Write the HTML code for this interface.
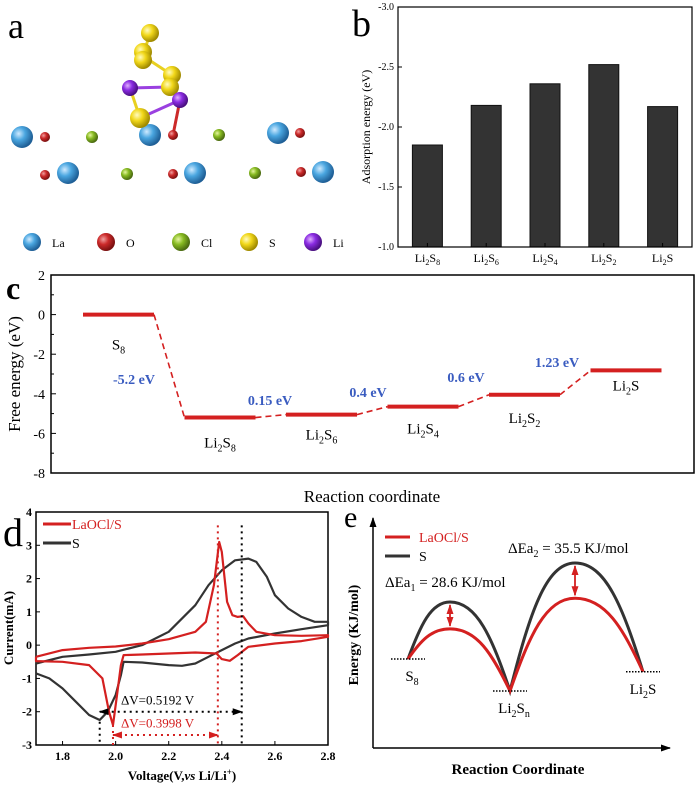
<!DOCTYPE html>
<html><head><meta charset="utf-8"><style>
body{margin:0;background:#fff}
svg{display:block;font-family:"Liberation Serif",serif}
</style></head><body>
<svg id="fig" width="700" height="787" viewBox="0 0 700 787" xmlns="http://www.w3.org/2000/svg">
<defs>
<radialGradient id="gLa" cx="35%" cy="35%" r="65%"><stop offset="0" stop-color="#cfeaff"/><stop offset="0.45" stop-color="#4aa6e0"/><stop offset="1" stop-color="#1f5f96"/></radialGradient>
<radialGradient id="gO" cx="35%" cy="35%" r="65%"><stop offset="0" stop-color="#f0a0a0"/><stop offset="0.45" stop-color="#cc2a2a"/><stop offset="1" stop-color="#7a1010"/></radialGradient>
<radialGradient id="gCl" cx="35%" cy="35%" r="65%"><stop offset="0" stop-color="#e6f5a0"/><stop offset="0.45" stop-color="#88bb22"/><stop offset="1" stop-color="#4a6a10"/></radialGradient>
<radialGradient id="gS" cx="35%" cy="35%" r="65%"><stop offset="0" stop-color="#fffbc0"/><stop offset="0.45" stop-color="#f2d81a"/><stop offset="1" stop-color="#a08a00"/></radialGradient>
<radialGradient id="gLi" cx="35%" cy="35%" r="65%"><stop offset="0" stop-color="#e0b0ff"/><stop offset="0.45" stop-color="#8a2be2"/><stop offset="1" stop-color="#4a1080"/></radialGradient>
<marker id="arB" markerUnits="userSpaceOnUse" markerWidth="10" markerHeight="10" refX="9" refY="5" orient="auto"><path d="M0,1.5 L10,5 L0,8.5 z" fill="#000"/></marker>
<marker id="arR" markerUnits="userSpaceOnUse" markerWidth="10" markerHeight="10" refX="9" refY="5" orient="auto"><path d="M0,1.5 L10,5 L0,8.5 z" fill="#d42020"/></marker>
<marker id="arBs" markerUnits="userSpaceOnUse" markerWidth="10" markerHeight="10" refX="1" refY="5" orient="auto"><path d="M10,1.5 L0,5 L10,8.5 z" fill="#000"/></marker>
<marker id="arRs" markerUnits="userSpaceOnUse" markerWidth="10" markerHeight="10" refX="1" refY="5" orient="auto"><path d="M10,1.5 L0,5 L10,8.5 z" fill="#d42020"/></marker>
</defs>

<g id="pa">
<text x="8" y="38" font-size="36">a</text>
<g stroke-width="3">
<line x1="150" y1="33" x2="143" y2="56" stroke="#e8d020"/>
<line x1="143" y1="56" x2="172" y2="75" stroke="#e8d020"/>
<line x1="172" y1="75" x2="170" y2="87" stroke="#e8d020"/>
<line x1="170" y1="87" x2="130" y2="88" stroke="#9a40e0"/>
<line x1="170" y1="87" x2="180" y2="100" stroke="#9a40e0"/>
<line x1="130" y1="88" x2="140" y2="118" stroke="#e8d020"/>
<line x1="180" y1="100" x2="140" y2="118" stroke="#9a40e0"/>
<line x1="180" y1="100" x2="173" y2="135" stroke="#cc2a2a"/>
</g>
</g>
<g id="legA"></g>

<g id="pb">
<text x="352" y="36" font-size="38">b</text>
<text transform="translate(370,127) rotate(-90)" font-size="12" text-anchor="middle">Adsorption energy (eV)</text>
</g>

<g id="pc">
<text x="6" y="299" font-size="32" font-weight="bold">c</text>
<text transform="translate(20,374) rotate(-90)" font-size="17" text-anchor="middle">Free energy (eV)</text>
<text x="372" y="502" font-size="17" text-anchor="middle">Reaction coordinate</text>
</g>

<g id="pd">
<text x="3" y="546" font-size="40">d</text>
<text transform="translate(13,628) rotate(-90)" font-size="13" font-weight="bold" text-anchor="middle">Current(mA)</text>
<text x="182" y="780" font-size="13" font-weight="bold" text-anchor="middle">Voltage(V,<tspan font-style="italic">vs</tspan> Li/Li<tspan dy="-5" font-size="9">+</tspan><tspan dy="5">)</tspan></text>
<line x1="43" y1="524" x2="71" y2="524" stroke="#d42020" stroke-width="3"/>
<text x="72" y="529" font-size="14" fill="#d42020">LaOCl/S</text>
<line x1="43" y1="543" x2="71" y2="543" stroke="#333" stroke-width="3"/>
<text x="72" y="548" font-size="14">S</text>
</g>

<g id="pe">
<text x="344" y="527" font-size="30">e</text>
<line x1="373" y1="748" x2="373" y2="518" stroke="#000" stroke-width="1.5" marker-end="url(#arB)"/>
<line x1="373" y1="748" x2="670" y2="748" stroke="#000" stroke-width="1.5" marker-end="url(#arB)"/>
<text transform="translate(358,635) rotate(-90)" font-size="14" font-weight="bold" text-anchor="middle">Energy (KJ/mol)</text>
<text x="518" y="774" font-size="15" font-weight="bold" text-anchor="middle">Reaction Coordinate</text>
<line x1="385" y1="537" x2="410" y2="537" stroke="#d42020" stroke-width="3"/>
<text x="419" y="542" font-size="14" fill="#d42020">LaOCl/S</text>
<line x1="385" y1="556" x2="410" y2="556" stroke="#333" stroke-width="3"/>
<text x="419" y="561" font-size="14">S</text>
<text x="508" y="553" font-size="15">ΔEa<tspan dy="4" font-size="10">2</tspan><tspan dy="-4"> = 35.5 KJ/mol</tspan></text>
<text x="385" y="587" font-size="15">ΔEa<tspan dy="4" font-size="10">1</tspan><tspan dy="-4"> = 28.6 KJ/mol</tspan></text>
</g>
</svg>
<script>
const NS='http://www.w3.org/2000/svg';
function mk(parent,tag,attrs,txt){const e=document.createElementNS(NS,tag);for(const k in attrs)e.setAttribute(k,attrs[k]);if(txt!==undefined)e.textContent=txt;parent.appendChild(e);return e;}

const pa=document.getElementById('pa');
const atomsA=[['La',22,137,11],['La',150,135,11],['La',278,133,11],['La',68,173,11],['La',195,173,11],['La',323,172,11],
['O',45,137,5],['O',173,135,5],['O',300,133,5],['O',45,175,5],['O',173,174,5],['O',301,172,5],
['Cl',92,137,6],['Cl',219,135,6],['Cl',127,174,6],['Cl',255,173,6],
['S',150,33,9],['S',143,52,9],['S',143,60,9],['S',172,75,9],['S',170,87,9],['S',140,118,10],['Li',130,88,8],['Li',180,100,8]];
atomsA.forEach(a=>{
  const c=mk(pa,'circle',{cx:a[1],cy:a[2],r:a[3],fill:'url(#g'+a[0]+')'});
  
  
});
const legA=document.getElementById('legA');
const legElems=['La','O','Cl','S','Li'];
const legXs=[32,106,181,249,313];
legElems.forEach((el,i)=>{
  const c=mk(legA,'circle',{cx:legXs[i],cy:242,r:9,fill:'url(#g'+el+')'});
  
  
  const t=mk(legA,'text',{x:legXs[i]+20,y:247,'font-size':12},el);
  
  
});

const bCategories=[['Li','2','S','8'],['Li','2','S','6'],['Li','2','S','4'],['Li','2','S','2'],['Li','2','S','']];
const bValues=[-1.85,-2.18,-2.36,-2.52,-2.17];
const bTicks=[-3.0,-2.5,-2.0,-1.5,-1.0];
const pb=document.getElementById('pb');
const bL=398,bR=692,bT=7,bB=247;
const byS=v=>bT+(v-(-3))/(2)*(bB-bT);
const bxS=i=>bL+(i+0.5)*(bR-bL)/bCategories.length;
bValues.forEach((v,i)=>{
  const r=mk(pb,'rect',{x:bxS(i)-15,y:byS(v),width:30,height:bB-byS(v),fill:'#333',stroke:'#111','stroke-width':1});
  
  
});
const bbox=mk(pb,'rect',{x:bL,y:bT,width:bR-bL,height:bB-bT,fill:'none',stroke:'#000','stroke-width':1.2});


bTicks.forEach(t=>{
  mk(pb,'line',{x1:bL,x2:bL+4,y1:byS(t),y2:byS(t),stroke:'#000'});
  const tx=mk(pb,'text',{x:bL-4,y:byS(t)+3,'font-size':10,'text-anchor':'end'},t.toFixed(1));
  
  
});
bCategories.forEach((c,i)=>{
  mk(pb,'line',{x1:bxS(i),x2:bxS(i),y1:bB,y2:bB-4,stroke:'#000'});
  const t=mk(pb,'text',{x:bxS(i),y:262,'font-size':12,'text-anchor':'middle'});
  
  
  mk(t,'tspan',{},c[0]);mk(t,'tspan',{dy:3,'font-size':8},c[1]);mk(t,'tspan',{dy:-3},c[2]);
  if(c[3])mk(t,'tspan',{dy:3,'font-size':8},c[3]);
});

const cStates=[['S','8',''],['Li','2','S8'],['Li','2','S6'],['Li','2','S4'],['Li','2','S2'],['Li','2','S']];
const cEnergies=[0,-5.2,-5.05,-4.65,-4.05,-2.82];
const cSteps=['-5.2 eV','0.15 eV','0.4 eV','0.6 eV','1.23 eV'];
const cTicks=[2,0,-2,-4,-6,-8];
const pc=document.getElementById('pc');
const cL=51,cR=694,cT=275,cB=473;
const cy=v=>cT+(2-v)/10*(cB-cT);
const cx=i=>83+i*101.5;
const cW=71;
const labelDy=[35,30,25,27,28,20];
const cf=mk(pc,'rect',{x:cL,y:cT,width:cR-cL,height:cB-cT,fill:'none',stroke:'#000','stroke-width':1.5});


cTicks.forEach(t=>{
  mk(pc,'line',{x1:cL,x2:cL+5,y1:cy(t),y2:cy(t),stroke:'#000'});
  if(t>-8)mk(pc,'line',{x1:cL,x2:cL+3,y1:cy(t-1),y2:cy(t-1),stroke:'#000'});
  const tx=mk(pc,'text',{x:cL-6,y:cy(t)+5,'font-size':14,'text-anchor':'end'},String(t));
  
  
});
cEnergies.forEach((e,i)=>{
  if(i>0){
    const d=mk(pc,'line',{x1:cx(i-1)+cW,y1:cy(cEnergies[i-1]),x2:cx(i),y2:cy(e),stroke:'#d42020','stroke-width':1.6,'stroke-dasharray':'6,4'});
    
    
  }
  const l=mk(pc,'line',{x1:cx(i),x2:cx(i)+cW,y1:cy(e),y2:cy(e),stroke:'#d42020','stroke-width':4});
  
  
  const s=cStates[i];
  const t=mk(pc,'text',{x:cx(i)+cW/2,y:cy(e)+labelDy[i],'font-size':15,'text-anchor':'middle'});
  
  
  if(i==0){mk(t,'tspan',{},'S');mk(t,'tspan',{dy:4,'font-size':10},'8');}
  else{mk(t,'tspan',{},'Li');mk(t,'tspan',{dy:4,'font-size':10},'2');mk(t,'tspan',{dy:-4},'S');
    if(s[2].length>1)mk(t,'tspan',{dy:4,'font-size':10},s[2].slice(1));}
});
const stepPos=[[134,384],[270,405],[368,397],[466,382],[557,367]];
cSteps.forEach((s,i)=>{
  const t=mk(pc,'text',{x:stepPos[i][0],y:stepPos[i][1],'font-size':14,'font-weight':'bold',fill:'#3a5cc0','text-anchor':'middle'},s);
  
  
});

const redV=[1.7,1.8,1.9,2.0,2.1,2.2,2.3,2.34,2.37,2.39,2.40,2.42,2.44,2.46,2.48,2.5,2.53,2.6,2.7,2.8,2.8,2.7,2.6,2.5,2.46,2.43,2.4,2.38,2.3,2.2,2.1,2.03,2.02,2.005,1.99,1.975,1.95,1.9,1.8,1.7,1.7];
const redI=[-0.35,-0.15,-0.08,-0.04,0.05,0.18,0.4,0.7,1.8,3.1,2.8,1.3,0.9,0.85,0.87,0.65,0.4,0.3,0.28,0.3,0.25,0.12,0.05,-0.05,-0.3,-0.47,-0.42,-0.25,-0.22,-0.25,-0.28,-0.3,-0.6,-1.5,-2.4,-2.0,-1.0,-0.6,-0.5,-0.48,-0.35];
const blkV=[1.7,1.8,1.9,2.0,2.1,2.2,2.3,2.35,2.4,2.45,2.5,2.53,2.57,2.6,2.65,2.7,2.75,2.8,2.8,2.7,2.6,2.5,2.45,2.4,2.35,2.3,2.25,2.2,2.1,2.03,2.02,2.0,1.97,1.94,1.9,1.85,1.8,1.75,1.7];
const blkI=[-0.55,-0.35,-0.28,-0.2,0.0,0.4,1.2,1.8,2.25,2.55,2.6,2.5,2.05,1.5,1.1,0.85,0.7,0.7,0.6,0.48,0.35,0.2,0.05,-0.15,-0.35,-0.55,-0.62,-0.6,-0.52,-0.5,-0.9,-1.5,-2.0,-2.25,-2.1,-1.7,-1.3,-1.0,-0.85];
const dXTicks=[1.8,2.0,2.2,2.4,2.6,2.8];
const dYTicks=[4,3,2,1,0,-1,-2,-3];
const pd=document.getElementById('pd');
const dL=36,dR=328,dT=512,dB=745;
const dx=v=>dL+(v-1.7)/1.1*(dR-dL);
const dy=i=>dT+(4-i)/7*(dB-dT);
const df=mk(pd,'rect',{x:dL,y:dT,width:dR-dL,height:dB-dT,fill:'none',stroke:'#000','stroke-width':1.5});


dYTicks.forEach(t=>{
  mk(pd,'line',{x1:dL,x2:dL+4,y1:dy(t),y2:dy(t),stroke:'#000'});
  const tx=mk(pd,'text',{x:dL-4,y:dy(t)+4,'font-size':12,'font-weight':'bold','text-anchor':'end'},String(t));
  
  
});
dXTicks.forEach(t=>{
  mk(pd,'line',{x1:dx(t),x2:dx(t),y1:dB,y2:dB-4,stroke:'#000'});
  const tx=mk(pd,'text',{x:dx(t),y:dB+15,'font-size':12,'font-weight':'bold','text-anchor':'middle'},t.toFixed(1));
  
  
});
function poly(V,I){return V.map((v,k)=>dx(v).toFixed(1)+','+dy(I[k]).toFixed(1)).join(' ');}
const bl=mk(pd,'polyline',{points:poly(blkV,blkI),fill:'none',stroke:'#333','stroke-width':2.2,'stroke-linejoin':'round'});


const rl=mk(pd,'polyline',{points:poly(redV,redI),fill:'none',stroke:'#d42020','stroke-width':2.2,'stroke-linejoin':'round'});


const dPeaks=[[2.385,3.6,'#d42020'],[1.99,-2.4,'#d42020'],[2.475,3.6,'#000'],[1.94,-2.3,'#000']];
dPeaks.forEach(p=>{
  const l=mk(pd,'line',{x1:dx(p[0]),x2:dx(p[0]),y1:dy(p[1]),y2:dB,stroke:p[2],'stroke-width':2,'stroke-dasharray':'2,4'});
  
  
});
const a1=mk(pd,'line',{x1:dx(1.94),x2:dx(2.475),y1:dy(-2),y2:dy(-2),stroke:'#000','stroke-width':2,'stroke-dasharray':'2,4','marker-end':'url(#arB)','marker-start':'url(#arBs)'});


const a2=mk(pd,'line',{x1:dx(1.99),x2:dx(2.385),y1:dy(-2.7),y2:dy(-2.7),stroke:'#d42020','stroke-width':2,'stroke-dasharray':'2,4','marker-end':'url(#arR)','marker-start':'url(#arRs)'});


const t1=mk(pd,'text',{x:dx(2.02),y:dy(-1.78),'font-size':13},'ΔV=0.5192 V');


const t2=mk(pd,'text',{x:dx(2.02),y:dy(-2.47),'font-size':13,fill:'#d42020'},'ΔV=0.3998 V');



const eCoord=[0,0.42,1.02,1.67,2.35];
const eS=[0,1.78,-1,3.0,-0.4];
const eLaOCl=[0,0.94,-1,1.9,-0.4];
const pe=document.getElementById('pe');
const ex=c=>408+c*100;
const ey=E=>659-E*32;
function epath(E){
  let d='M'+ex(eCoord[0])+','+ey(E[0]);
  for(let k=1;k<eCoord.length;k++){
    const x0=ex(eCoord[k-1]),y0=ey(E[k-1]),x1=ex(eCoord[k]),y1=ey(E[k]);const w=x1-x0;
    if(y1<y0) d+=' C'+(x0+w*0.3)+','+(y0+(y1-y0)*0.6)+' '+(x1-w*0.45)+','+y1+' '+x1+','+y1;
    else d+=' C'+(x0+w*0.45)+','+y0+' '+(x1-w*0.3)+','+(y1-(y1-y0)*0.6)+' '+x1+','+y1;
  }
  return d;
}
const pS=mk(pe,'path',{d:epath(eS),fill:'none',stroke:'#333','stroke-width':3});


const pL=mk(pe,'path',{d:epath(eLaOCl),fill:'none',stroke:'#d42020','stroke-width':3});


[1,3].forEach(k=>{
  const ar=mk(pe,'line',{x1:ex(eCoord[k]),x2:ex(eCoord[k]),y1:ey(eS[k])+3,y2:ey(eLaOCl[k])-3,stroke:'#d42020','stroke-width':1.8,'marker-end':'url(#arR)','marker-start':'url(#arRs)'});
  
  
});
const eMins=[[0,'S','8',''],[2,'Li','2','n'],[4,'Li','2','S']];
eMins.forEach(m=>{
  const x=ex(eCoord[m[0]]),y=ey(eS[m[0]]);
  const l=mk(pe,'line',{x1:x-17,x2:x+17,y1:y,y2:y,stroke:'#000','stroke-width':1.5,'stroke-dasharray':'1.5,1.5'});
  
  
  const t=mk(pe,'text',{x:x+(m[0]==4?0:4),y:y+22,'font-size':15,'text-anchor':'middle'});
  
  
  if(m[0]==0){mk(t,'tspan',{},'S');mk(t,'tspan',{dy:4,'font-size':10},'8');}
  else if(m[0]==2){mk(t,'tspan',{},'Li');mk(t,'tspan',{dy:4,'font-size':10},'2');mk(t,'tspan',{dy:-4},'S');mk(t,'tspan',{dy:4,'font-size':10},'n');}
  else{mk(t,'tspan',{},'Li');mk(t,'tspan',{dy:4,'font-size':10},'2');mk(t,'tspan',{dy:-4},'S');}
});
</script>
</body></html>
